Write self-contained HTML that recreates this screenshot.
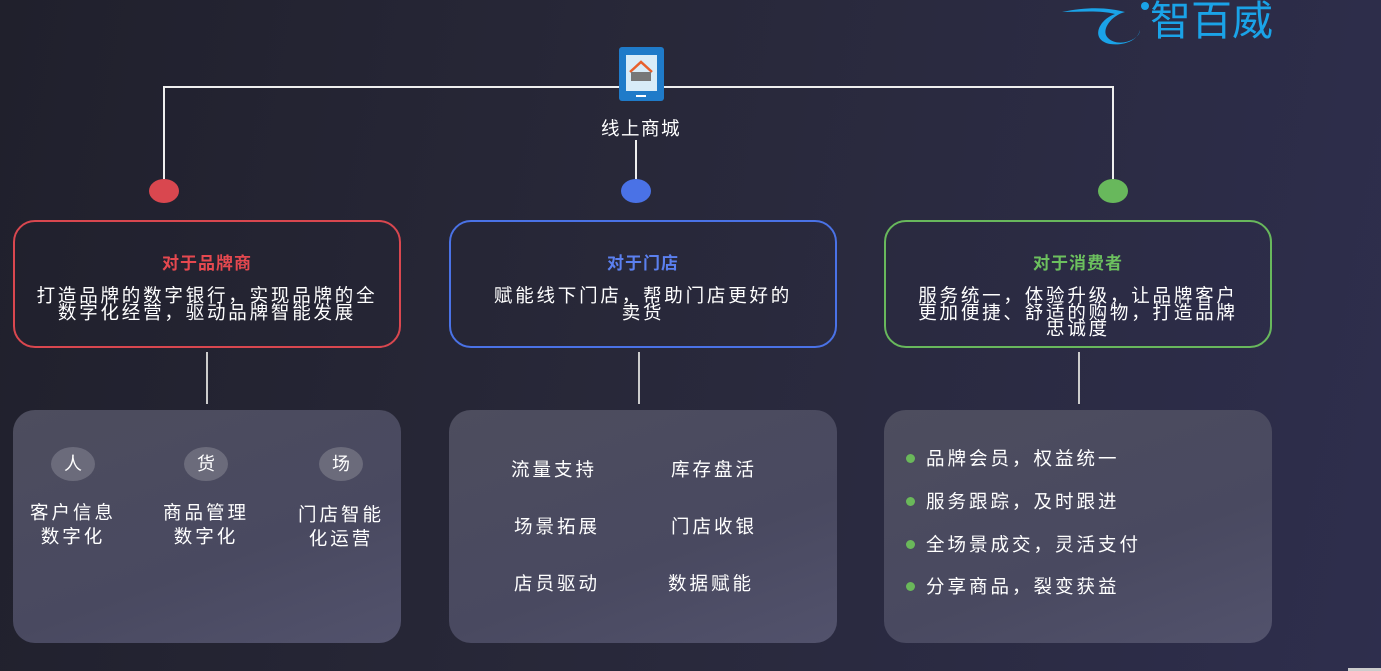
<!DOCTYPE html>
<html><head><meta charset="utf-8"><style>
*{margin:0;padding:0;box-sizing:border-box}
body{width:1381px;height:671px;overflow:hidden;background:linear-gradient(100deg,#20202c 0%,#282839 45%,#2e2e4d 100%);font-family:"Liberation Sans","Noto Sans CJK SC",sans-serif;color:#fff;position:relative}
.a{position:absolute}
.tb{position:absolute;top:220px;width:388px;height:128px;border:2px solid;border-radius:22px;text-align:center;padding-top:27px}
.tb h3{font-size:17px;font-weight:bold;margin-bottom:14px;letter-spacing:1px}
.tb p{font-size:18.5px;line-height:16.5px;padding:0 14px;letter-spacing:2.8px}
.bb{position:absolute;top:410px;width:388px;height:233px;border-radius:22px;background:linear-gradient(160deg,#4d4d5e,#494960 60%,#52526c)}
.t{position:absolute;font-size:18.5px;letter-spacing:3px;text-align:center;white-space:nowrap}
.c{position:absolute;width:44px;height:34px;border-radius:50%;background:#6b6b7b;font-size:18px;text-align:center;line-height:34px}
.dot{position:absolute;width:30px;height:24px;border-radius:50%}
.li{position:absolute;left:926px;font-size:18.5px;letter-spacing:3px}
.li:before{content:"";position:absolute;left:-20px;top:9px;width:9px;height:9px;border-radius:50%;background:#6ab85a}
</style></head><body>
<svg class="a" style="left:0;top:0" width="1381" height="671">
<path d="M164 179V87H1113V179" fill="none" stroke="#eee" stroke-width="2"/>
<line x1="636" y1="140" x2="636" y2="179" stroke="#eee" stroke-width="2"/>
<line x1="207" y1="352" x2="207" y2="404" stroke="#ccc" stroke-width="2"/>
<line x1="639" y1="352" x2="639" y2="404" stroke="#ccc" stroke-width="2"/>
<line x1="1079" y1="352" x2="1079" y2="404" stroke="#ccc" stroke-width="2"/>
<rect x="619" y="47" width="45" height="54" rx="3" fill="#1f7bc9"/>
<rect x="626" y="55" width="31" height="36" fill="#d8ecf8"/>
<path d="M630 72L641 62L652 72" fill="none" stroke="#e8602c" stroke-width="2.5"/>
<rect x="631" y="72" width="20" height="9" fill="#777"/>
<line x1="636" y1="96" x2="646" y2="96" stroke="#fff" stroke-width="2"/>
<rect x="1348" y="668" width="33" height="3" fill="#ccc"/>
<path d="M1062 12C1090 6 1110 8 1125 12C1112 15 1100 30 1108 38C1118 48 1140 40 1140 30C1138 40 1125 46 1110 44C1090 40 1098 20 1115 14C1100 10 1080 12 1062 12Z" fill="#1aa3e8"/>
<circle cx="1145" cy="6" r="4" fill="#1aa3e8"/>
</svg>
<div class="a" style="left:1150px;top:-2px;font-size:41px;color:#1aa3e8;line-height:46px">智百威</div>
<div class="t" style="left:591px;top:115px;width:100px;letter-spacing:1.5px">线上商城</div>
<div class="dot" style="left:149px;top:179px;background:#d9474f"></div>
<div class="dot" style="left:621px;top:179px;background:#4a72e6"></div>
<div class="dot" style="left:1098px;top:179px;background:#68b85c"></div>
<div class="tb" style="left:13px;border-color:#d9474f"><h3 style="color:#e5484f">对于品牌商</h3><p>打造品牌的数字银行，实现品牌的全<br>数字化经营，驱动品牌智能发展</p></div>
<div class="tb" style="left:449px;border-color:#4a72e6"><h3 style="color:#5b80f0">对于门店</h3><p>赋能线下门店，帮助门店更好的<br>卖货</p></div>
<div class="tb" style="left:884px;border-color:#68b85c"><h3 style="color:#6cc05e">对于消费者</h3><p>服务统一，体验升级，让品牌客户<br>更加便捷、舒适的购物，打造品牌<br>忠诚度</p></div>
<div class="bb" style="left:13px"></div>
<div class="bb" style="left:449px"></div>
<div class="bb" style="left:884px"></div>
<div class="c" style="left:51px;top:447px">人</div>
<div class="c" style="left:184px;top:447px">货</div>
<div class="c" style="left:319px;top:447px">场</div>
<div class="t" style="left:13px;top:501px;width:120px;line-height:24px">客户信息<br>数字化</div>
<div class="t" style="left:146px;top:501px;width:120px;line-height:24px">商品管理<br>数字化</div>
<div class="t" style="left:281px;top:503px;width:120px;line-height:24px">门店智能<br>化运营</div>
<div class="t" style="left:511px;top:456px">流量支持</div>
<div class="t" style="left:671px;top:456px">库存盘活</div>
<div class="t" style="left:514px;top:513px">场景拓展</div>
<div class="t" style="left:671px;top:513px">门店收银</div>
<div class="t" style="left:514px;top:570px">店员驱动</div>
<div class="t" style="left:668px;top:570px">数据赋能</div>
<div class="li" style="top:445px">品牌会员，权益统一</div>
<div class="li" style="top:488px">服务跟踪，及时跟进</div>
<div class="li" style="top:531px">全场景成交，灵活支付</div>
<div class="li" style="top:573px">分享商品，裂变获益</div>
</body></html>
